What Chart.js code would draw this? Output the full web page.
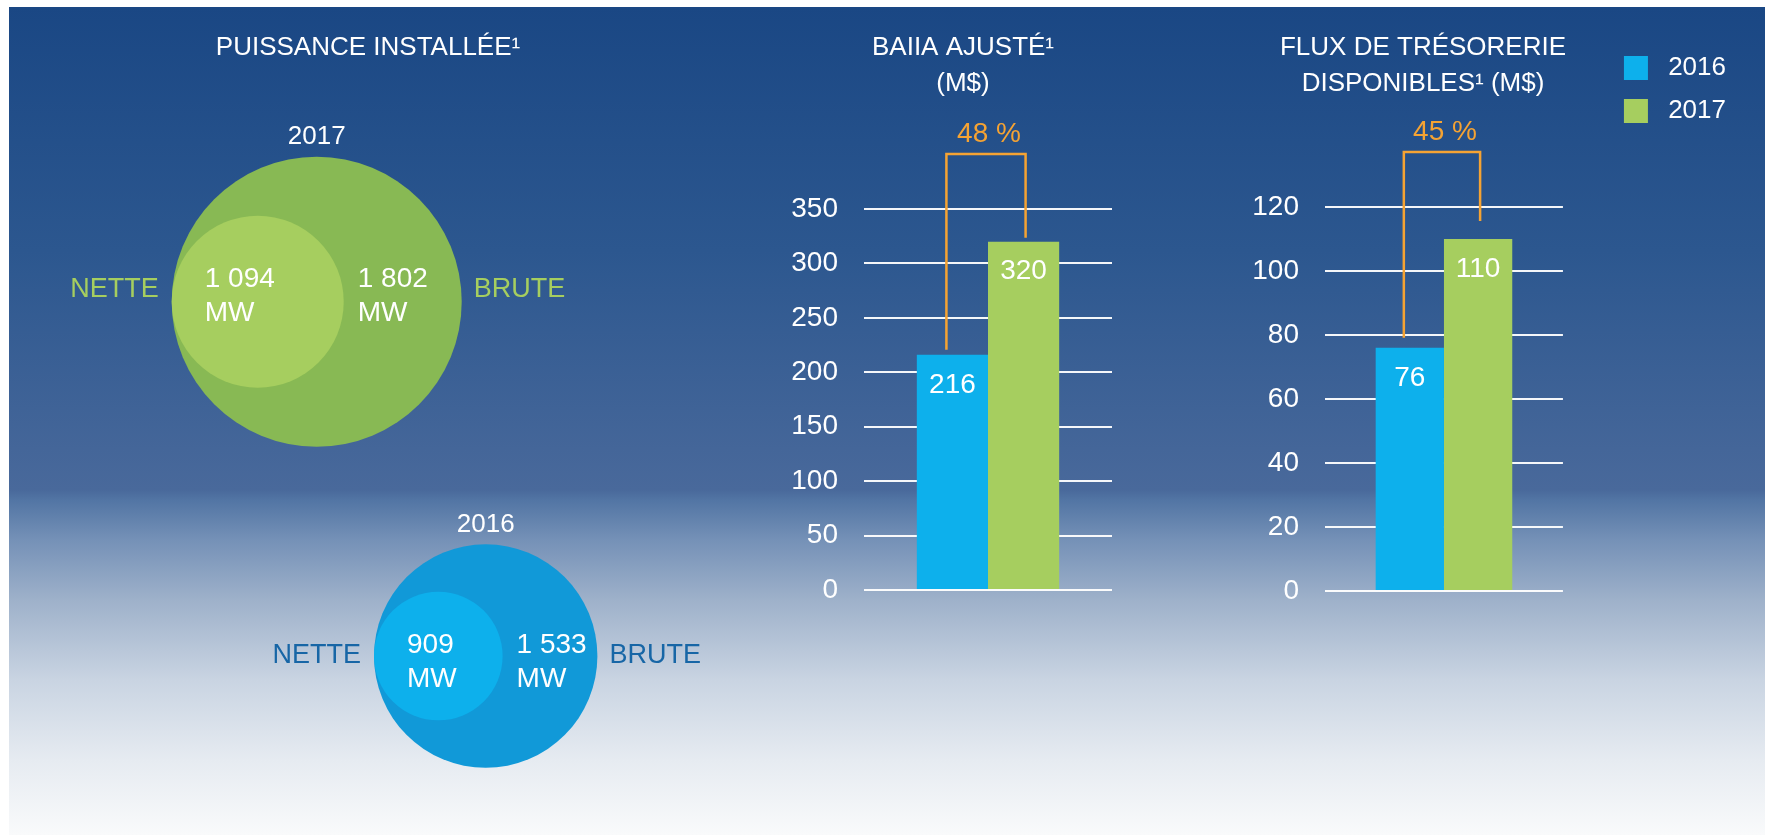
<!DOCTYPE html>
<html lang="fr">
<head>
<meta charset="utf-8">
<title>Puissance installée, BAIIA ajusté et flux de trésorerie</title>
<script src="https://cdn.jsdelivr.net/npm/chart.js@4.4.1/dist/chart.umd.min.js"></script>
<style>
  html, body { margin: 0; padding: 0; background: #fff; }
  #page { position: relative; width: 1765px; height: 835px; overflow: hidden; }
  #panel {
    position: absolute; left: 9px; top: 7px; width: 1756px; height: 828px;
    background: linear-gradient(to bottom,
      #1a4784 0px, #2c578f 243px, #49699b 483px, #5275a4 493px, #7591b7 533px,
      #9eb1ca 593px, #c9d4e2 673px, #e6ebf1 753px, #f9fafb 828px);
  }
  canvas { position: absolute; }
</style>
</head>
<body>
<div id="page">
  <div id="panel"></div>
  <canvas id="puissance" width="718" height="828" style="left:9px;top:7px"></canvas>
  <canvas id="baiia" width="398" height="600" style="left:764px;top:0"></canvas>
  <canvas id="flux" width="626" height="601" style="left:1110px;top:0"></canvas>
</div>
<script>
// valeurs
const vennYears = ['2017', '2016'];
const netteMW = [1094, 909];
const bruteMW = [1802, 1533];

const barYears = ['2016', '2017'];
const baiiaValues = [216, 320];
const fluxValues = [76, 110];

const baiiaTicks = [0, 50, 100, 150, 200, 250, 300, 350];
const fluxTicks = [0, 20, 40, 60, 80, 100, 120];

const FONT = "'Liberation Sans', Arial, sans-serif";
const BLUE = '#0db0ec';
const GREEN = '#a6ce5f';
const ORANGE = '#f5a333';

Chart.defaults.font.family = FONT;
Chart.defaults.color = '#ffffff';
Chart.defaults.animation = false;
Chart.defaults.events = [];
Chart.defaults.plugins.tooltip.enabled = false;

const fmt = n => String(n).replace(/\B(?=(\d{3})+(?!\d))/g, ' ');

// cercles imbriqués : le cercle NETTE est tangent à gauche du cercle BRUTE
const vennPlugin = {
  id: 'venn',
  beforeDatasetsDraw(chart) {
    const inner = chart.getDatasetMeta(0).data;
    const outer = chart.getDatasetMeta(1).data;
    inner.forEach((el, i) => {
      el.x = outer[i].x - outer[i].options.radius + el.options.radius;
      el.y = outer[i].y;
    });
  },
  afterDatasetsDraw(chart, args, opts) {
    const ctx = chart.ctx;
    const inner = chart.getDatasetMeta(0).data;
    const outer = chart.getDatasetMeta(1).data;
    ctx.save();
    ctx.textBaseline = 'middle';
    outer.forEach((o, i) => {
      const R = o.options.radius;
      const n = inner[i];
      const r = n.options.radius;
      const ty = o.y + opts.textShift[i];

      ctx.fillStyle = '#ffffff';
      ctx.textAlign = 'center';
      ctx.font = '26px ' + FONT;
      ctx.fillText(vennYears[i], o.x, o.y - R - 20);

      ctx.fillStyle = opts.labelColors[i];
      ctx.font = '27px ' + FONT;
      ctx.textAlign = 'right';
      ctx.fillText('NETTE', o.x - R - 13, ty - 8);
      ctx.textAlign = 'left';
      ctx.fillText('BRUTE', o.x + R + 12, ty - 8);

      ctx.fillStyle = '#ffffff';
      ctx.font = '28px ' + FONT;
      const xi = n.x - r + 33;
      const xo = n.x + r + 14;
      ctx.fillText(fmt(netteMW[i]), xi, ty - 18);
      ctx.fillText('MW', xi, ty + 16);
      ctx.fillText(fmt(bruteMW[i]), xo, ty - 18);
      ctx.fillText('MW', xo, ty + 16);
    });
    ctx.restore();
  }
};

// valeurs dans les barres + crochet de variation en %
const bracketPlugin = {
  id: 'bracket',
  afterDatasetsDraw(chart, args, opts) {
    const {ctx, chartArea} = chart;
    const a = chart.getDatasetMeta(0).data[0];
    const b = chart.getDatasetMeta(1).data[0];
    const v0 = chart.data.datasets[0].data[0];
    const v1 = chart.data.datasets[1].data[0];
    ctx.save();
    ctx.font = '28px ' + FONT;
    ctx.textAlign = 'center';
    ctx.textBaseline = 'middle';
    ctx.fillStyle = '#ffffff';
    ctx.fillText(v0, a.x, a.y + 30);
    ctx.fillText(v1, b.x, b.y + 30);

    const top = chartArea.top - 55;
    const x0 = a.x - 6;
    const x1 = b.x + 2;
    ctx.strokeStyle = ORANGE;
    ctx.lineWidth = 2.5;
    ctx.beginPath();
    ctx.moveTo(x0, a.y - opts.gaps[0]);
    ctx.lineTo(x0, top);
    ctx.lineTo(x1, top);
    ctx.lineTo(x1, b.y - opts.gaps[1]);
    ctx.stroke();

    ctx.fillStyle = ORANGE;
    const pct = Math.round((v1 - v0) / v0 * 100);
    ctx.fillText(pct + ' %', (x0 + x1) / 2 + 3, top - 20);
    ctx.restore();
  }
};

new Chart('puissance', {
  type: 'bubble',
  data: {
    datasets: [
      {
        label: 'NETTE',
        data: vennYears.map((y, i) => ({x: i, y: i})),
        backgroundColor: ['#a6ce5f', '#0db0ec'],
        radius: [86, 64.3],
        borderWidth: 0,
        clip: false
      },
      {
        label: 'BRUTE',
        data: vennYears.map((y, i) => ({x: i, y: i})),
        backgroundColor: ['#88b954', '#1199d8'],
        radius: [145, 111.7],
        borderWidth: 0,
        clip: false
      }
    ]
  },
  options: {
    responsive: false,
    devicePixelRatio: 1,
    layout: {autoPadding: false, padding: 0},
    scales: {
      x: {display: false, min: -1.821, max: 2.428},
      y: {display: false, reverse: true, min: -0.64, max: 1.505}
    },
    plugins: {
      legend: {display: false},
      title: {
        display: true,
        text: 'PUISSANCE INSTALLÉE¹',
        color: '#ffffff',
        font: {size: 26, weight: 'normal', lineHeight: 36 / 26},
        padding: {top: 23, bottom: 9}
      },
      venn: {labelColors: ['#a6ce5f', '#1766a6'], textShift: [-4, 7]}
    }
  },
  plugins: [vennPlugin]
});

function barChart(id, title, values, ticks, yWidth, padWidth, titleBottom, gaps, showLegend) {
  return new Chart(id, {
    type: 'bar',
    data: {
      labels: [title[0]],
      datasets: [
        {label: barYears[0], data: [values[0]], backgroundColor: BLUE, yAxisID: 'y'},
        {label: barYears[1], data: [values[1]], backgroundColor: GREEN, yAxisID: 'y'}
      ]
    },
    options: {
      responsive: false,
      devicePixelRatio: 1,
      layout: {autoPadding: false, padding: {bottom: 10}},
      datasets: {bar: {categoryPercentage: 0.574, barPercentage: 1, borderWidth: 0}},
      scales: {
        x: {display: false},
        y: {
          min: ticks[0],
          max: ticks[ticks.length - 1],
          ticks: {stepSize: ticks[1] - ticks[0], padding: 26, color: '#ffffff', font: {size: 28}},
          grid: {color: 'rgba(255,255,255,0.95)', lineWidth: 2, drawTicks: false},
          border: {display: false},
          afterFit: s => { s.width = yWidth; s.paddingTop = 0; s.paddingBottom = 0; }
        },
        pad: {
          position: 'right',
          display: true,
          grid: {display: false},
          border: {display: false},
          ticks: {display: false},
          afterFit: s => { s.width = padWidth; s.paddingTop = 0; s.paddingBottom = 0; }
        }
      },
      plugins: {
        title: {
          display: true,
          text: title,
          color: '#ffffff',
          font: {size: 26, weight: 'normal', lineHeight: 36 / 26},
          padding: {top: 30, bottom: titleBottom}
        },
        legend: {
          display: showLegend,
          position: 'right',
          align: 'start',
          maxWidth: 200,
          title: {display: true, text: '', font: {size: 26, lineHeight: 1}, padding: {top: 12, bottom: 0}},
          labels: {
            boxWidth: 24,
            boxHeight: 24,
            padding: 17,
            color: '#ffffff',
            font: {size: 26},
            generateLabels: chart => Chart.defaults.plugins.legend.labels.generateLabels(chart)
              .map(item => Object.assign(item, {text: ' ' + item.text}))
          }
        },
        bracket: {gaps: gaps}
      }
    },
    plugins: [bracketPlugin]
  });
}

barChart('baiia', ['BAIIA AJUSTÉ¹', '(M$)'], baiiaValues, baiiaTicks, 100, 50, 107, [5, 4], false);
barChart('flux', ['FLUX DE TRÉSORERIE', 'DISPONIBLES¹ (M$)'], fluxValues, fluxTicks, 215, 44, 105, [10, 18], true);
</script>
</body>
</html>
